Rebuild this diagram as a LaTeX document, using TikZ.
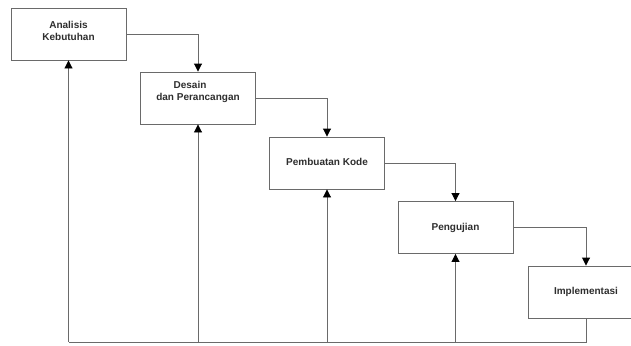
\documentclass[tikz,border=0pt]{standalone}
\usepackage{fontspec}
\setmainfont{Liberation Sans}
\usetikzlibrary{arrows.meta}
\definecolor{linec}{HTML}{6A6A6A}
\definecolor{textc}{HTML}{2E2E2E}
\begin{document}
\begin{tikzpicture}[x=1pt,y=-1pt,
  stage/.style={draw=linec,line width=0.9pt,fill=white,minimum width=115pt,minimum height=52pt,inner sep=0pt},
  lbl/.style={text=textc,font=\fontsize{10}{12}\selectfont\bfseries,align=center,inner sep=0pt},
  arr/.style={draw=linec,line width=0.9pt,-{Triangle[width=8pt,length=8pt,color=black]}},
  conn/.style={draw=linec,line width=0.9pt}]
\useasboundingbox (0,0) rectangle (631,345);
\begin{scope}
\clip (0,0) rectangle (631,345);
\node[stage] (a) at (68.5,34) {};
\node[stage] (b) at (198,98) {};
\node[stage] (c) at (327,163) {};
\node[stage] (d) at (455.5,227.5) {};
\node[stage] (e) at (586,292) {};
\end{scope}
\node[lbl] (ta) at ([yshift=3pt]a.center) {Analisis\\Kebutuhan};
\node[lbl] (tb) at ([yshift=6pt]b.center) {Desain\hspace*{16pt}\\dan Perancangan};
\node[lbl] (tc) at ([yshift=1pt]c.center) {Pembuatan Kode};
\node[lbl] (td) at (d.center) {Pengujian};
\node[lbl] (te) at (e.center) {Implementasi};
\coordinate (base) at (0,342);
\draw[arr] (a.east) -| (b.north);
\draw[arr] (b.east) -| (c.north);
\draw[arr] (c.east) -| (d.north);
\draw[arr] (d.east) -| (e.north);
\draw[conn] (e.south) -- (e.south |- base) -- (a.south |- base);
\draw[arr] (a.south |- base) -- (a.south);
\draw[arr] (b.south |- base) -- (b.south);
\draw[arr] (c.south |- base) -- (c.south);
\draw[arr] (d.south |- base) -- (d.south);
\end{tikzpicture}
\end{document}
